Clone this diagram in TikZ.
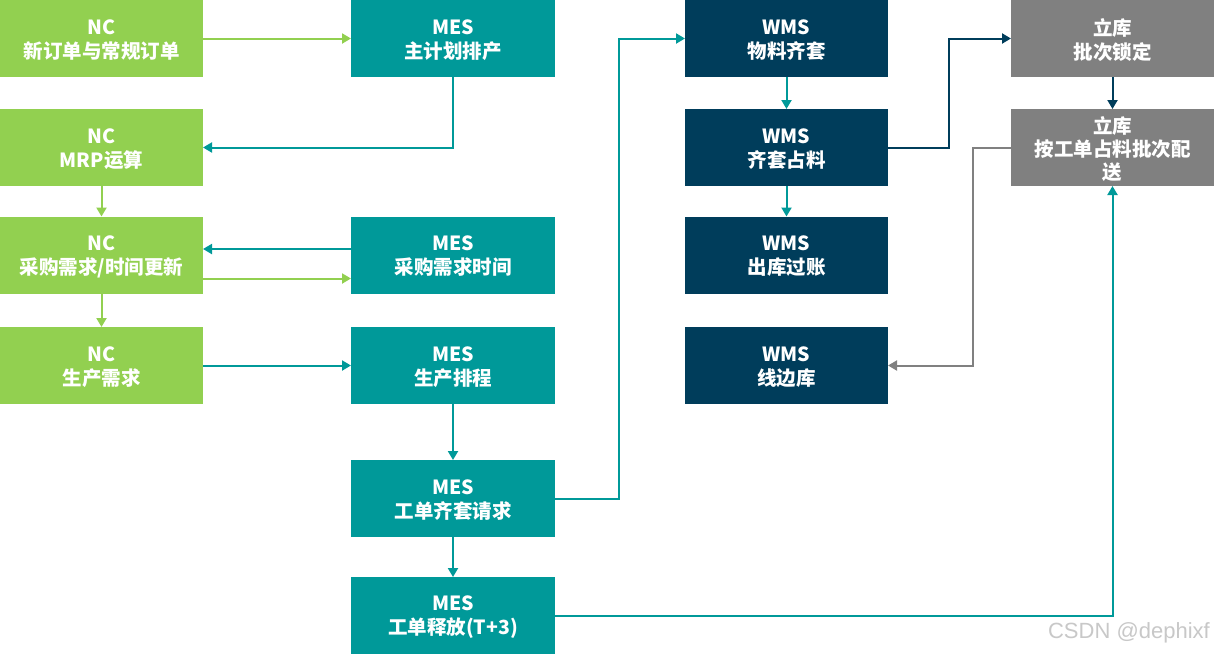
\documentclass[tikz,border=0pt]{standalone}
\usepackage{fontspec}
\setmainfont{Noto Sans CJK SC}
\newfontfamily\markfont{Liberation Sans}
\usetikzlibrary{arrows.meta}
\definecolor{ncgreen}{HTML}{92D050}
\definecolor{mesteal}{HTML}{009999}
\definecolor{wmsnavy}{HTML}{003D5B}
\definecolor{lkgray}{HTML}{808080}
\definecolor{markgray}{HTML}{C8C8C8}
\tikzset{
  box/.style={minimum width=203pt, minimum height=77pt, inner sep=0pt, outer sep=0pt,
    align=center, text=white, font=\bfseries\fontsize{19.5}{24}\selectfont},
  ncbox/.style={box, fill=ncgreen},
  mesbox/.style={box, fill=mesteal, minimum width=204pt},
  wmsbox/.style={box, fill=wmsnavy},
  lkbox/.style={box, fill=lkgray, font=\bfseries\fontsize{19.5}{23}\selectfont},
  flow/.style={line width=2pt, -{Triangle[length=9pt,width=10pt]}},
  lbl/.style={yshift=-1.5pt},
}
\begin{document}
\begin{tikzpicture}[x=1pt,y=-1pt]
\useasboundingbox (0,0) rectangle (1214,654);
\fill[white] (0,0) rectangle (1214,654);

% NC column
\node[ncbox] (nc1) at (101.5,38.5) {};
\node[ncbox] (nc2) at (101.5,147.5) {};
\node[ncbox] (nc3) at (101.5,255) {};
\node[ncbox] (nc4) at (101.5,365.5) {};

% MES column
\node[mesbox] (mes1) at (453,38.5) {};
\node[mesbox] (mes2) at (453,255) {};
\node[mesbox] (mes3) at (453,365.5) {};
\node[mesbox] (mes4) at (453,498.5) {};
\node[mesbox] (mes5) at (453,615.5) {};

% WMS column
\node[wmsbox] (wms1) at (786.5,38.5) {};
\node[wmsbox] (wms2) at (786.5,147.5) {};
\node[wmsbox] (wms3) at (786.5,255) {};
\node[wmsbox] (wms4) at (786.5,365.5) {};

% automated warehouse column
\node[lkbox] (lk1) at (1112.5,38.5) {};
\node[lkbox] (lk2) at (1112.5,147.5) {};

% box captions, set slightly below each box centre
\foreach \n/\t in {nc1/{NC\\新订单与常规订单}, nc2/{NC\\MRP运算}, nc3/{NC\\采购需求/时间更新},
  nc4/{NC\\生产需求}, mes1/{MES\\主计划排产}, mes2/{MES\\采购需求时间}, mes3/{MES\\生产排程},
  mes4/{MES\\工单齐套请求}, mes5/{MES\\工单释放(T+3)}, wms1/{WMS\\物料齐套},
  wms2/{WMS\\齐套占料}, wms3/{WMS\\出库过账}, wms4/{WMS\\线边库}, lk1/{立库\\批次锁定}}
  \node[box, lbl, fill=none, minimum width=0pt, minimum height=0pt] (\n-t) at (\n) {\t};
\node[lkbox, lbl, fill=none, minimum width=0pt, minimum height=0pt] (lk2-t) at (lk2) {立库\\按工单占料批次配\\送};

% NC flows
\draw[flow, ncgreen] (nc1.east) -- (mes1.west);
\draw[flow, ncgreen] (nc2.south) -- (nc3.north);
\draw[flow, ncgreen] ([yshift=-23.5pt]nc3.east) -- ([yshift=-23.5pt]mes2.west);
\draw[flow, ncgreen] (nc3.south) -- (nc4.north);

% MES flows
\draw[flow, mesteal] (mes1.south) |- (nc2.east);
\draw[flow, mesteal] ([yshift=6pt]mes2.west) -- ([yshift=6pt]nc3.east);
\draw[flow, mesteal] (nc4.east) -- (mes3.west);
\draw[flow, mesteal] (mes3.south) -- (mes4.north);
\draw[flow, mesteal] (mes4.south) -- (mes5.north);
\draw[flow, mesteal] (mes4.east) -- ++(64,0) |- (wms1.west);
\draw[flow, mesteal] (mes5.east) -| (lk2.south);

% WMS flows
\draw[flow, mesteal] (wms1.south) -- (wms2.north);
\draw[flow, mesteal] (wms2.south) -- (wms3.north);
\draw[flow, wmsnavy] (wms2.east) -- ++(61,0) |- (lk1.west);

% warehouse flows
\draw[flow, wmsnavy] (lk1.south) -- (lk2.north);
\draw[flow, lkgray] (lk2.west) -- ++(-38.5,0) |- (wms4.east);

% author mark
\node[anchor=east, inner sep=0pt, text=markgray, font=\markfont\fontsize{22}{24}\selectfont] (mark) at (1210,633) {CSDN @dephixf};
\end{tikzpicture}
\end{document}
